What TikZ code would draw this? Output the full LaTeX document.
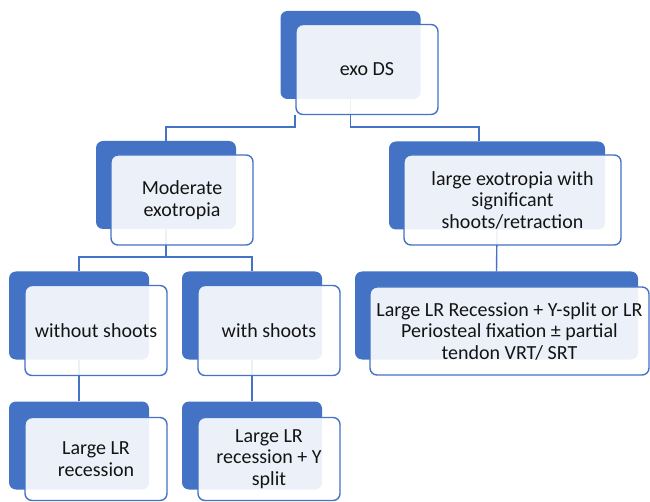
\documentclass[tikz,border=0pt]{standalone}
\usepackage{fontspec}
\setmainfont{Carlito}
\definecolor{boxblue}{HTML}{4472C4}

\begin{document}
\begin{tikzpicture}[x=1pt, y=-1pt,
    back/.style={fill=boxblue, rounded corners=7pt, minimum width=140pt,
                 minimum height=88pt, inner sep=0pt},
    front/.style={draw=boxblue, line width=1.4pt, fill=white, fill opacity=0.9,
                  text opacity=1, rounded corners=7pt, minimum width=142pt,
                  minimum height=90pt, inner sep=0pt, align=center, text=black!92,
                  font=\fontsize{20}{21.5}\selectfont},
    link/.style={draw=boxblue, line width=1.4pt}
]
    \useasboundingbox (0,0) rectangle (650,502);

    \node[back] (exoB) at (350.5,55) {};
    \node[back] (modB) at (166,185) {};
    \node[back, minimum width=216pt] (bigB) at (497,185.5) {};
    \node[back] (woB) at (79,315.5) {};
    \node[back] (wsB) at (252,315.5) {};
    \node[back, minimum width=283pt] (recB) at (496.5,315.5) {};
    \node[back] (llrB) at (79,445.5) {};
    \node[back] (llryB) at (252,445.5) {};

    \coordinate (exoL) at (295,115);
    \draw[link] (exoL) -- ++(0,12) -| (modB.north);
    \draw[link] (exoB.south) -- ++(0,28) -| ([xshift=-18pt]bigB.north);
    \draw[link] (modB.south) -- ++(0,28) -| (woB.north);
    \draw[link] (modB.south) -- ++(0,28) -| (wsB.north);
    \draw[link] (bigB.south) -- (recB.north);
    \draw[link] (woB.south) -- (llrB.north);
    \draw[link] (wsB.south) -- (llryB.north);

    \node[front] (exoF) at (367,69.5) {exo DS};
    \node[front] (modF) at (182,200) {Moderate\\exotropia};
    \node[front, minimum width=217pt] (bigF) at (512.5,200) {large exotropia with\\significant\\shoots/retraction};
    \node[front] (woF) at (96,330.5) {without shoots};
    \node[front] (wsF) at (269,330.5) {with shoots};
    \node[front, minimum width=279pt, minimum height=88pt] (recF) at (509.5,331) {Large LR Recession + Y-split or LR\\Periosteal fixation ± partial\\tendon VRT/ SRT};
    \node[front, minimum height=83pt] (llrF) at (96,459) {Large LR\\recession};
    \node[front, minimum height=83pt] (llryF) at (269,459) {Large LR\\recession + Y\\split};
\end{tikzpicture}
\end{document}
